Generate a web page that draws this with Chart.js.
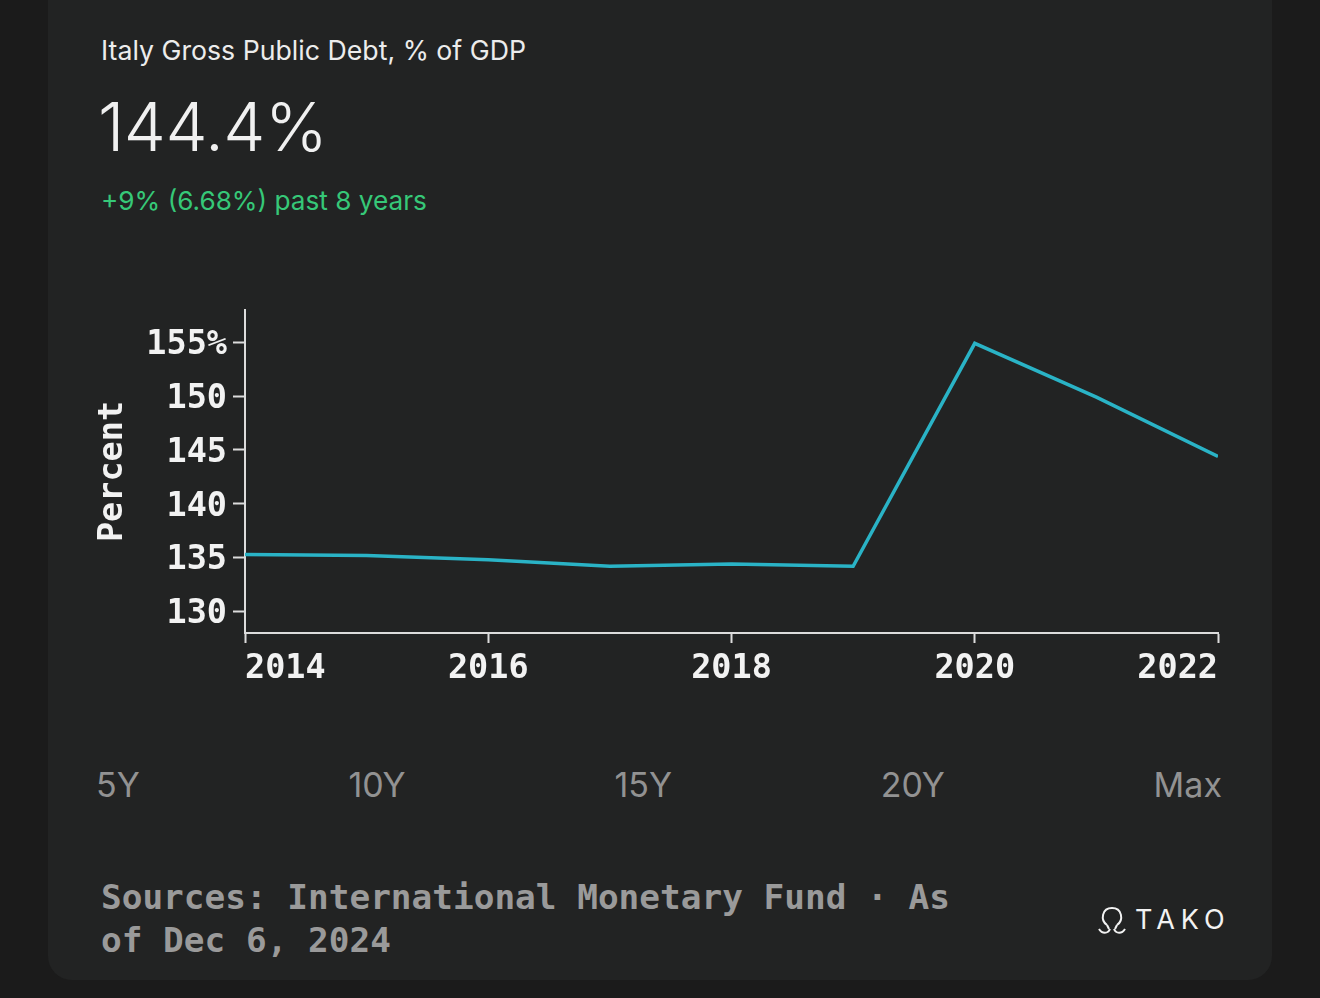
<!DOCTYPE html>
<html lang="en">
<head>
  <meta charset="UTF-8">
  <title>Italy Gross Public Debt</title>
  <script src="https://cdn.jsdelivr.net/npm/chart.js"></script>
  <style>
    body {
      margin: 0;
      width: 1320px;
      height: 998px;
      background: #1b1b1b;
      overflow: hidden;
      font-family: Inter, "Noto Sans", sans-serif;
    }

    .card {
      position: absolute;
      left: 48px;
      top: -40px;
      width: 1224px;
      height: 1020px;
      background: #222323;
      border-radius: 24px;
    }

    .title {
      position: absolute;
      left: 101px;
      top: 34px;
      font-size: 26.7px;
      color: #ececec;
    }

    .big {
      position: absolute;
      left: 98px;
      top: 86px;
      font-size: 67px;
      font-weight: 300;
      color: #f0f0f0;
      letter-spacing: -0.5px;
    }

    .change {
      position: absolute;
      left: 101px;
      top: 185px;
      font-size: 26.2px;
      color: #36c878;
    }

    .chart-box {
      position: absolute;
      left: 60px;
      top: 290px;
      width: 1200px;
      height: 420px;
    }

    .ranges {
      position: absolute;
      left: 96px;
      width: 1126px;
      top: 764px;
      display: flex;
      justify-content: space-between;
      font-size: 34px;
      color: #929292;
    }

    .sources {
      position: absolute;
      left: 101px;
      top: 876px;
      font-family: "DejaVu Sans Mono", monospace;
      font-weight: bold;
      font-size: 34.4px;
      line-height: 43px;
      color: #9a9a9a;
    }

    .logo {
      position: absolute;
      left: 1097px;
      top: 903px;
      display: flex;
      align-items: center;
      color: #f2f2f2;
      font-size: 27px;
      letter-spacing: 6px;
    }
  </style>
</head>
<body>
  <div class="card"></div>
  <div class="title">Italy Gross Public Debt, % of GDP</div>
  <div class="big">144.4%</div>
  <div class="change">+9% (6.68%) past 8 years</div>

  <div class="chart-box">
    <canvas id="debtChart" width="1200" height="420"></canvas>
  </div>

  <div class="ranges">
    <span>5Y</span><span>10Y</span><span>15Y</span><span>20Y</span><span>Max</span>
  </div>

  <div class="sources">Sources: International Monetary Fund · As<br>of Dec 6, 2024</div>

  <div class="logo">
    <svg width="30" height="32" viewBox="0 0 30 32" style="margin-right:8px">
      <path d="M10 21 C3 16 5 4 15 4 C25 4 27 16 20 21" fill="none" stroke="#f2f2f2" stroke-width="2"/>
      <path d="M2 25 C5 30 11 30 13 25 M17 25 C19 30 25 30 28 25" fill="none" stroke="#f2f2f2" stroke-width="2"/>
      <path d="M10 21 L12 25 M20 21 L18 25" fill="none" stroke="#f2f2f2" stroke-width="2"/>
    </svg>
    <span>TAKO</span>
  </div>

  <script>
    // values
    const years = [2014, 2015, 2016, 2017, 2018, 2019, 2020, 2021, 2022];
    const debtPct = [135.3, 135.2, 134.8, 134.2, 134.4, 134.2, 154.9, 149.9, 144.4];
    const xTicks = [2014, 2016, 2018, 2020, 2022];
    const yTicks = [130, 135, 140, 145, 150, 155];

    const monoFont = "'DejaVu Sans Mono', monospace";
    const axisColor = "#dcdcdc";

    const points = years.map((y, i) => ({ x: y, y: debtPct[i] }));

    const ctx = document.getElementById("debtChart").getContext("2d");
    new Chart(ctx, {
      type: "line",
      data: {
        datasets: [{
          data: points,
          borderColor: "#2ab3c6",
          borderWidth: 3.5,
          pointRadius: 0,
          tension: 0,
          fill: false
        }]
      },
      options: {
        responsive: false,
        animation: false,
        layout: { padding: { top: 20, right: 42, left: 0, bottom: 0 } },
        plugins: { legend: { display: false }, tooltip: { enabled: false } },
        scales: {
          x: {
            type: "linear",
            min: 2014,
            max: 2022,
            afterBuildTicks: s => { s.ticks = xTicks.map(v => ({ value: v })); },
            afterFit: s => { s.height = 77; s.paddingLeft = 0; s.paddingRight = 0; },
            grid: { drawOnChartArea: false, drawTicks: true, tickLength: 10, tickColor: axisColor, tickWidth: 2 },
            border: { color: axisColor, width: 2 },
            ticks: {
              align: "inner",
              padding: 6,
              color: "#f2f2f2",
              maxRotation: 0,
              font: { family: monoFont, size: 33.5, weight: "bold" },
              callback: v => String(v)
            }
          },
          y: {
            min: 128,
            max: 158,
            afterBuildTicks: s => { s.ticks = yTicks.map(v => ({ value: v })); },
            afterFit: s => { s.width = 185; s.paddingTop = 0; s.paddingBottom = 0; },
            grid: { drawOnChartArea: false, drawTicks: true, tickLength: 12, tickColor: axisColor, tickWidth: 2 },
            border: { color: axisColor, width: 2 },
            title: {
              display: true,
              text: "Percent",
              color: "#f2f2f2",
              padding: { top: 33, bottom: 0 },
              font: { family: monoFont, size: 33.5, weight: "bold", lineHeight: 1.2 }
            },
            ticks: {
              padding: 6,
              labelOffset: 3,
              color: "#f2f2f2",
              font: { family: monoFont, size: 33.5, weight: "bold" },
              callback: v => (v === 155 ? "155%" : String(v))
            }
          }
        }
      }
    });
  </script>
</body>
</html>
